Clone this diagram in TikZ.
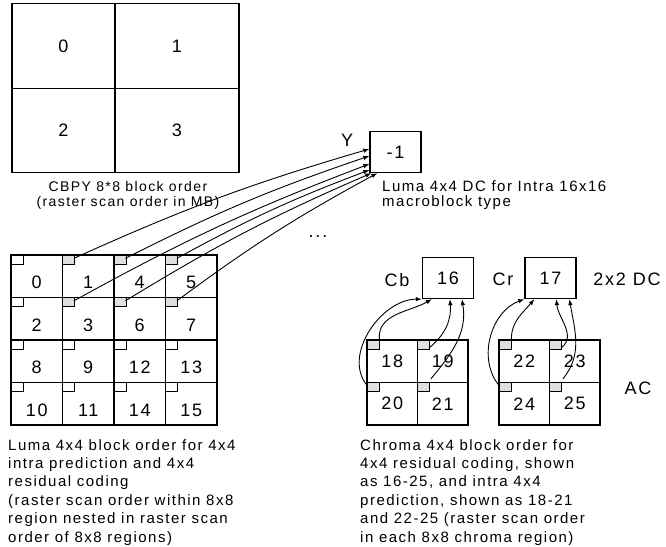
\documentclass[tikz,border=0pt]{standalone}
\usepackage{fontspec}
\setmainfont{Liberation Sans}[LetterSpace=10]
\usetikzlibrary{arrows.meta}

\tikzset{
  blk/.style={draw, line width=1.3pt, inner sep=0pt, font=\fontsize{18}{18}\selectfont},
  cell/.style={blk, minimum width=51.5pt, minimum height=42.5pt,
    path picture={\draw[line width=0.9pt, fill=#1] (path picture bounding box.north west) rectangle ++(12pt,-9pt);}},
  cell/.default=white,
  lcell/.style={cell=#1, text height=25pt, text depth=0pt},
  lcell/.default=white,
  ccell/.style={cell=gray!25, minimum width=50.5pt},
  bigcell/.style={blk, minimum height=84.5pt},
  dcbox/.style={blk, minimum width=51pt, minimum height=41pt},
  tag/.style={inner sep=0pt, font=\fontsize{18}{18}\selectfont},
  capt/.style={inner sep=0pt, align=left, font=\fontsize{15}{18.4}\selectfont},
  feed/.style={-{Latex[length=6pt,width=4.5pt]}, line width=0.9pt}
}

\begin{document}
\begin{tikzpicture}[x=1pt,y=1pt]
\useasboundingbox (0,0) rectangle (666,546);
% CBPY 8x8 blocks
\node[bigcell, minimum width=103pt] (b0) at (63.5,500) {0};
\node[bigcell, minimum width=124pt] (b1) at (177,500) {1};
\node[bigcell, minimum width=103pt] (b2) at (63.5,415.5) {2};
\node[bigcell, minimum width=124pt] (b3) at (177,415.5) {3};
\node[capt, align=center, anchor=north, font=\fontsize{14}{15.5}\selectfont] (bcap) at (128,365) {CBPY 8*8 block order\\(raster scan order in MB)};

% luma DC
\node[dcbox] (dc) at (395.5,394) {-1};
\node[tag] (ylab) at (347,406) {Y};
\node[capt, anchor=north west, font=\fontsize{15}{15.5}\selectfont] (dccap) at (382,366) {Luma 4x4 DC for Intra 16x16\\macroblock type};
\node[tag] (dots) at (318,309) {...};

% luma 4x4 blocks
\node[lcell] (l0) at (36.75,269.75) {0};
\node[lcell=gray!25] (l1) at (88.25,269.75) {1};
\node[lcell=gray!25] (l4) at (139.75,269.75) {4};
\node[lcell=gray!25] (l5) at (191.25,269.75) {5};
\node[lcell] (l2) at (36.75,227.25) {2};
\node[lcell=gray!25] (l3) at (88.25,227.25) {3};
\node[lcell=gray!25] (l6) at (139.75,227.25) {6};
\node[lcell=gray!25] (l7) at (191.25,227.25) {7};
\node[lcell] (l8) at (36.75,184.75) {8};
\node[lcell] (l9) at (88.25,184.75) {9};
\node[lcell] (l12) at (139.75,184.75) {12};
\node[lcell] (l13) at (191.25,184.75) {13};
\node[lcell] (l10) at (36.75,142.25) {10};
\node[lcell] (l11) at (88.25,142.25) {11};
\node[lcell] (l14) at (139.75,142.25) {14};
\node[lcell] (l15) at (191.25,142.25) {15};

\draw[feed] ([shift={(12pt,-4pt)}]l1.north west) to[bend left=4] ([yshift=3pt]dc.west);
\draw[feed] ([shift={(12pt,-4pt)}]l4.north west) to[bend left=4] ([yshift=-4pt]dc.west);
\draw[feed] ([shift={(12pt,-4pt)}]l3.north west) to[bend left=4] ([yshift=-12pt]dc.west);
\draw[feed] ([shift={(12pt,-4pt)}]l5.north west) to[bend left=4] ([yshift=-18pt]dc.west);
\draw[feed] ([shift={(12pt,-4pt)}]l6.north west) to[bend left=4] ([xshift=2pt]dc.south west);
\draw[feed] ([shift={(12pt,-4pt)}]l7.north west) to[bend left=4] ([xshift=8pt]dc.south west);

% chroma DC and AC
\node[dcbox] (cb) at (448,268) {16};
\node[dcbox] (cr) at (550.5,268) {17};
\node[tag] (cblab) at (397,266) {Cb};
\node[tag] (crlab) at (503,267) {Cr};
\node[tag] (dclab) at (627,267) {2x2 DC};
\node[tag] (aclab) at (638,158) {AC};

\node[ccell] (c18) at (392.25,184.75) {18};
\node[ccell] (c19) at (442.75,184.75) {19};
\node[ccell] (c20) at (392.25,142.25) {20};
\node[ccell] (c21) at (442.75,142.25) {21};
\node[ccell] (c22) at (524.25,184.75) {22};
\node[ccell] (c23) at (574.75,184.75) {23};
\node[ccell] (c24) at (524.25,142.25) {24};
\node[ccell] (c25) at (574.75,142.25) {25};

\draw[feed] ([shift={(1pt,-4pt)}]c20.north west) to[out=130,in=180] (cb.south west);
\draw[feed] ([shift={(13pt,0pt)}]c18.north west) to[out=95,in=210] ([xshift=10pt]cb.south west);
\draw[feed] ([shift={(13pt,-8pt)}]c19.north west) to[out=40,in=-85] ([xshift=28pt]cb.south west);
\draw[feed] ([shift={(14pt,3pt)}]c21.north west) to[out=50,in=-80] ([xshift=40pt]cb.south west);
\draw[feed] ([shift={(1pt,-4pt)}]c24.north west) to[out=130,in=200] (cr.south west);
\draw[feed] ([shift={(13pt,0pt)}]c22.north west) to[out=90,in=230] ([xshift=10pt]cr.south west);
\draw[feed] ([shift={(13pt,-8pt)}]c23.north west) to[out=40,in=-85] ([xshift=32pt]cr.south west);
\draw[feed] ([shift={(14pt,3pt)}]c25.north west) to[out=50,in=-80] ([xshift=45pt]cr.south west);

% captions
\node[capt, anchor=north west] (lcap) at (8,107) {Luma 4x4 block order for 4x4\\intra prediction and 4x4\\residual coding\\(raster scan order within 8x8\\region nested in raster scan\\order of 8x8 regions)};
\node[capt, anchor=north west] (ccap) at (360,107) {Chroma 4x4 block order for\\4x4 residual coding, shown\\as 16-25, and intra 4x4\\prediction, shown as 18-21\\and 22-25 (raster scan order\\in each 8x8 chroma region)};
\end{tikzpicture}
\end{document}
